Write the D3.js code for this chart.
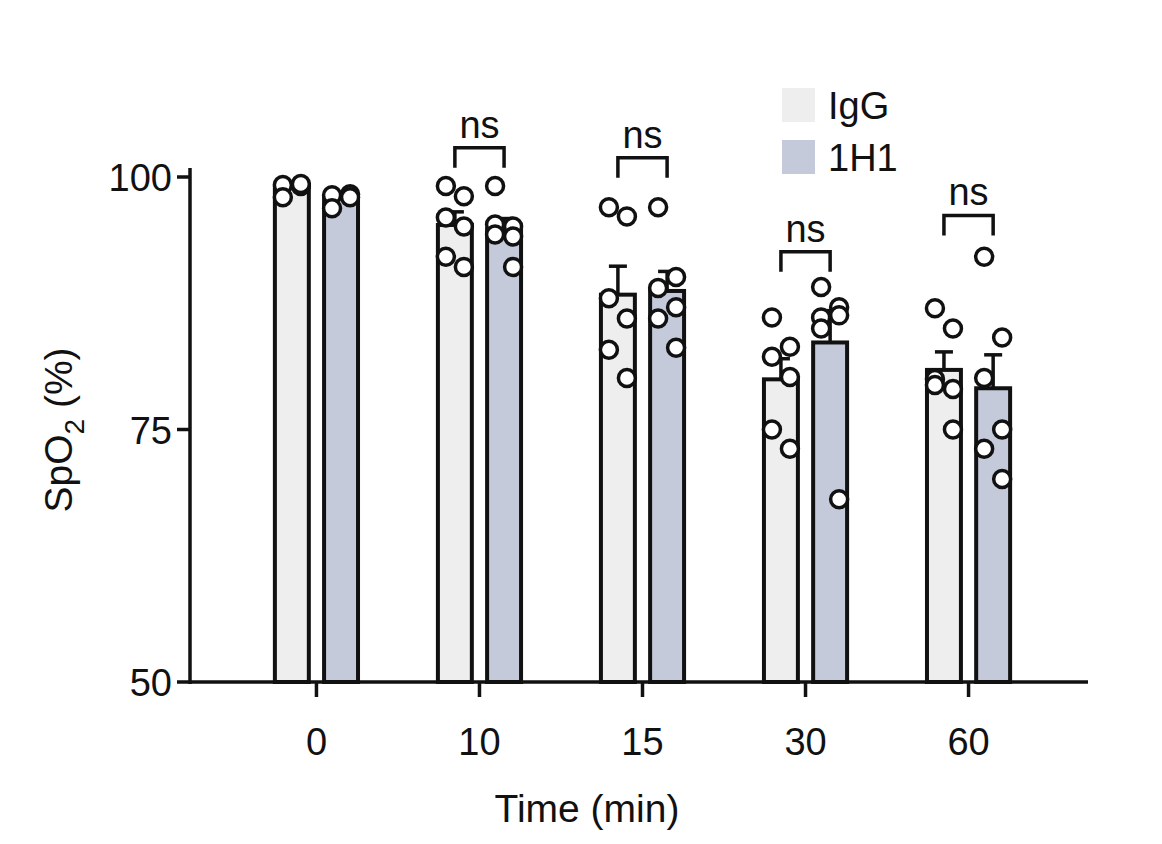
<!DOCTYPE html>
<html><head><meta charset="utf-8">
<script src="https://cdn.jsdelivr.net/npm/d3@7"></script>
<style>body{margin:0;background:#fff}text{font-family:Arial,"Liberation Sans",sans-serif;fill:#111}</style>
</head><body><div></div>
<script>
const times = ['0', '10', '15', '30', '60']
const groups = ['IgG', '1H1']
const colors = ['#eeeeee', '#c5cadb']
const igg = [
  [99.2, 99.1, 98.0, 99.3],
  [99.1, 98.1, 96.0, 95.1, 92.1, 91.1],
  [97.0, 96.1, 88.0, 86.0, 82.9, 80.1],
  [86.1, 83.2, 82.2, 80.2, 75.0, 73.1],
  [87.0, 85.0, 80.0, 79.0, 79.4, 75.0]
]
const h1 = [
  [98.2, 98.3, 96.9, 98.0],
  [99.1, 95.1, 95.3, 94.1, 94.3, 91.1],
  [97.0, 90.1, 89.0, 87.1, 86.0, 83.1],
  [89.1, 87.1, 86.1, 86.3, 85.0, 68.1],
  [92.1, 84.1, 80.1, 75.0, 73.1, 70.1]
]
const bracketLevels = [null, 102.9, 101.9, 92.6, 96.2]
const yTicks = [50, 75, 100]

const svg = d3.select('div').append('svg').attr('width', 1162).attr('height', 844)
const y = d3.scaleLinear().domain([50, 100]).range([682, 177])
const x = d3.scaleBand().domain(times).range([195, 1090]).padding(0.49)
const sub = d3.scaleBand().domain(groups).range([0, x.bandwidth()]).paddingInner(0.31)
const bw = sub.bandwidth()

// axes
svg.append('line').attr('x1', 190).attr('x2', 1088).attr('y1', 682).attr('y2', 682).attr('stroke', '#111').attr('stroke-width', 3.5)
svg.append('line').attr('x1', 190).attr('x2', 190).attr('y1', 168).attr('y2', 684).attr('stroke', '#111').attr('stroke-width', 3.5)
yTicks.forEach(t => {
  svg.append('line').attr('x1', 177).attr('x2', 190).attr('y1', y(t)).attr('y2', y(t)).attr('stroke', '#111').attr('stroke-width', 3.5)
  svg.append('text').attr('x', 172).attr('y', y(t) + 14).attr('text-anchor', 'end').attr('font-size', 38).text(t)
})
times.forEach(t => {
  const cx = x(t) + x.bandwidth() / 2
  svg.append('line').attr('x1', cx).attr('x2', cx).attr('y1', 682).attr('y2', 697).attr('stroke', '#111').attr('stroke-width', 3.5)
  svg.append('text').attr('x', cx).attr('y', 755).attr('text-anchor', 'middle').attr('font-size', 38).text(t)
})
svg.append('text').attr('x', 587).attr('y', 822).attr('text-anchor', 'middle').attr('font-size', 39).text('Time (min)')
const yl = svg.append('text').attr('transform', 'translate(72,430) rotate(-90)').attr('text-anchor', 'middle').attr('font-size', 39)
yl.append('tspan').text('SpO')
yl.append('tspan').attr('font-size', 28).attr('dy', 12).text('2')
yl.append('tspan').attr('dy', -12).text(' (%)')

// bars
const series = [igg, h1]
series.forEach((ser, gi) => {
  ser.forEach((vals, ti) => {
    const bx = x(times[ti]) + sub(groups[gi])
    const m = d3.mean(vals)
    const sem = d3.deviation(vals) / Math.sqrt(vals.length)
    svg.append('rect').attr('x', bx).attr('y', y(m)).attr('width', bw).attr('height', 682 - y(m))
      .attr('fill', colors[gi]).attr('stroke', '#111').attr('stroke-width', 4)
    const cx = bx + bw / 2
    svg.append('line').attr('x1', cx).attr('x2', cx).attr('y1', y(m)).attr('y2', y(m + sem)).attr('stroke', '#111').attr('stroke-width', 3.5)
    svg.append('line').attr('x1', cx - 9).attr('x2', cx + 9).attr('y1', y(m + sem)).attr('y2', y(m + sem)).attr('stroke', '#111').attr('stroke-width', 3.5)
    svg.selectAll(null).data(vals).enter().append('circle')
      .attr('cx', (d, i) => cx + (i % 2 === 0 ? -9 : 9))
      .attr('cy', d => y(d)).attr('r', 8.5)
      .attr('fill', '#fff').attr('stroke', '#111').attr('stroke-width', 3.5)
  })
})

// significance brackets
bracketLevels.forEach((lv, ti) => {
  if (lv === null) return
  const x1 = x(times[ti]) + sub('IgG') + bw / 2
  const x2 = x(times[ti]) + sub('1H1') + bw / 2
  const yy = y(lv)
  svg.append('path').attr('d', `M${x1},${yy + 20}V${yy}H${x2}V${yy + 20}`)
    .attr('fill', 'none').attr('stroke', '#111').attr('stroke-width', 3.5)
  svg.append('text').attr('x', (x1 + x2) / 2).attr('y', yy - 10).attr('text-anchor', 'middle').attr('font-size', 38).text('ns')
})

// legend
groups.forEach((g, i) => {
  svg.append('rect').attr('x', 782).attr('y', 88 + i * 52).attr('width', 33).attr('height', 34).attr('fill', colors[i])
  svg.append('text').attr('x', 828).attr('y', 119 + i * 52).attr('font-size', 38).text(g)
})
</script>
</body></html>
